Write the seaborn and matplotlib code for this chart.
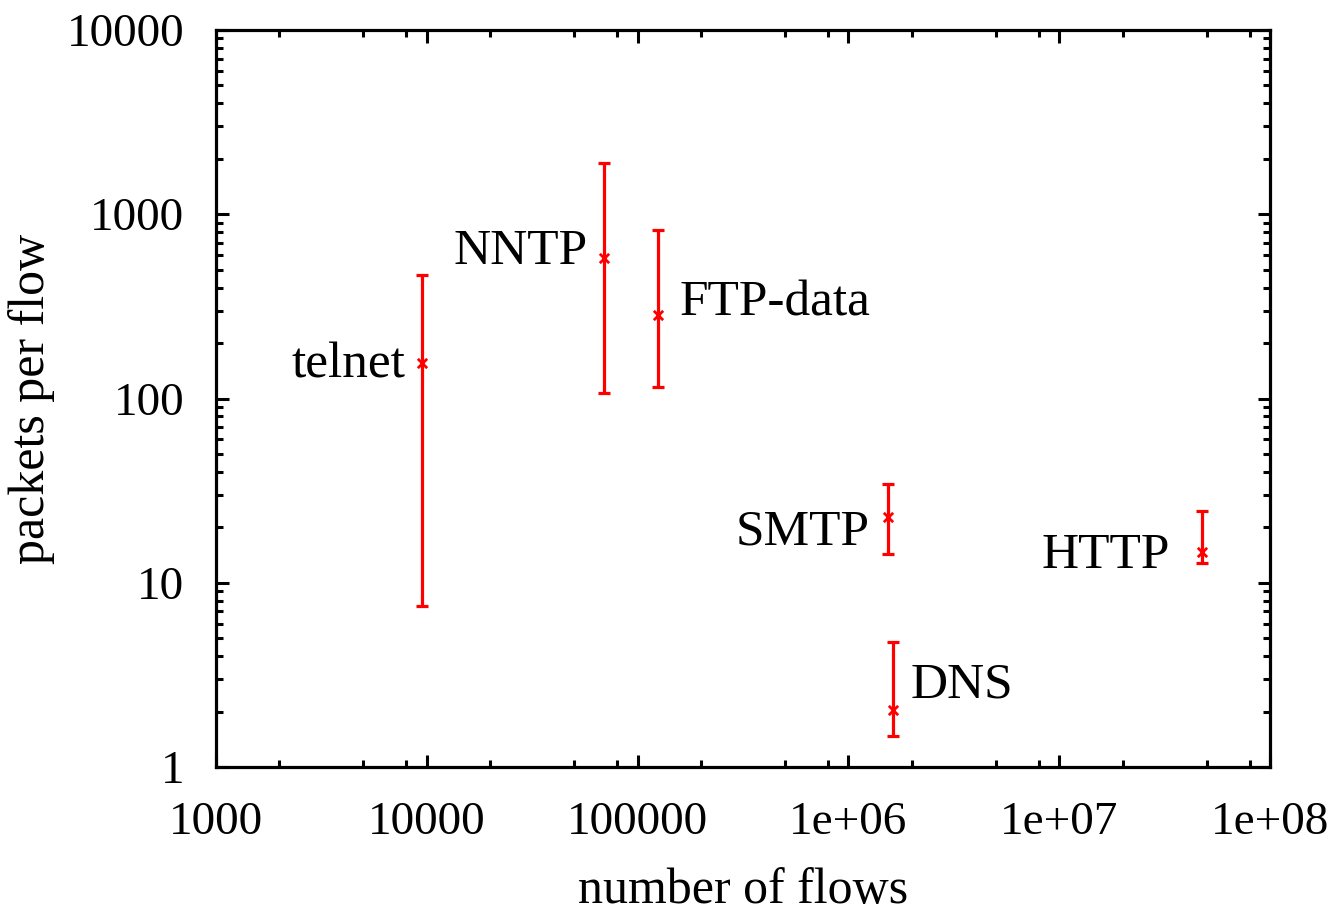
import numpy as np
import pandas as pd
import matplotlib
matplotlib.use("Agg")
import matplotlib.pyplot as plt
import matplotlib.ticker as mticker
import seaborn as sns

# ---- data ----
protocols = ["telnet", "NNTP", "FTP-data", "SMTP", "DNS", "HTTP"]
num_flows = [9500, 69500, 124500, 1.545e6, 1.63e6, 4.74e7]
pkts_mid = [156, 579, 284, 22.8, 2.04, 14.7]
pkts_low = [7.48, 107, 115, 14.3, 1.47, 12.8]
pkts_high = [468, 1890, 822, 34.4, 4.75, 24.4]

x_ticks = [1e3, 1e4, 1e5, 1e6, 1e7, 1e8]
x_ticklabels = ["1000", "10000", "100000", "1e+06", "1e+07", "1e+08"]
y_ticks = [1, 10, 100, 1000, 10000]
y_ticklabels = ["1", "10", "100", "1000", "10000"]

df = pd.DataFrame({"protocol": protocols, "flows": num_flows, "mid": pkts_mid,
                   "low": pkts_low, "high": pkts_high})

sns.set_style("ticks")
plt.rcParams["font.family"] = ["Liberation Serif", "DejaVu Serif"]
plt.rcParams["text.color"] = "black"
plt.rcParams["axes.labelcolor"] = "black"
plt.rcParams["xtick.color"] = "black"
plt.rcParams["ytick.color"] = "black"
plt.rcParams["xtick.labelcolor"] = "black"
plt.rcParams["ytick.labelcolor"] = "black"

fig = plt.figure(figsize=(13.37, 9.17), dpi=100)
ax = fig.add_axes([216 / 1337, 1 - 767 / 917, (1270 - 216) / 1337, (767 - 30) / 917])

red = "#ff0000"
yerr = np.array([df["mid"] - df["low"], df["high"] - df["mid"]])
ax.errorbar(df["flows"], df["mid"], yerr=yerr, fmt="none", ecolor=red,
            elinewidth=2.3, capsize=4.3, capthick=2.3, zorder=2)
sns.scatterplot(data=df, x="flows", y="mid", marker="x", color=red, s=45,
                linewidth=2.0, ax=ax, zorder=3, legend=False)

ax.set_xscale("log")
ax.set_yscale("log")
ax.set_xlim(1e3, 1e8)
ax.set_ylim(1, 1e4)

ax.xaxis.set_major_locator(mticker.FixedLocator(x_ticks))
ax.xaxis.set_major_formatter(mticker.FixedFormatter(x_ticklabels))
ax.yaxis.set_major_locator(mticker.FixedLocator(y_ticks))
ax.yaxis.set_major_formatter(mticker.FixedFormatter(y_ticklabels))
ax.xaxis.set_minor_locator(mticker.LogLocator(base=10, subs=[2, 5, 8], numticks=20))
ax.yaxis.set_minor_locator(mticker.LogLocator(base=10, subs=np.arange(2, 10), numticks=20))
ax.xaxis.set_minor_formatter(mticker.NullFormatter())
ax.yaxis.set_minor_formatter(mticker.NullFormatter())

ax.tick_params(which="both", direction="in", top=True, right=True, color="black",
               labelcolor="black")
ax.tick_params(which="major", length=9, width=2.2)
ax.tick_params(which="minor", length=5, width=2.2)
ax.tick_params(axis="x", which="major", labelsize=34, pad=25)
ax.tick_params(axis="y", which="major", labelsize=34, pad=23)

for sp in ax.spines.values():
    sp.set_linewidth(2.3)
    sp.set_color("black")

ax.set_xlabel("number of flows", fontsize=36, labelpad=17, color="black")
ax.set_ylabel("packets per flow", fontsize=36, labelpad=8, color="black")

# labels next to each error bar (pixel offsets from the point)
offsets = {"telnet": (-17, 3, "right"), "NNTP": (-17, 12, "right"),
           "FTP-data": (22, 17, "left"), "SMTP": (-19, -10, "right"),
           "DNS": (17, 30, "left"), "HTTP": (-32, 2, "right")}
for name, fx, fy in zip(protocols, num_flows, pkts_mid):
    dx, dy, ha = offsets[name]
    ax.annotate(name, xy=(fx, fy), xytext=(dx, dy), textcoords="offset pixels",
                ha=ha, va="center_baseline", fontsize=37, color="black")

fig.savefig("out.png", dpi=100, facecolor="white")
